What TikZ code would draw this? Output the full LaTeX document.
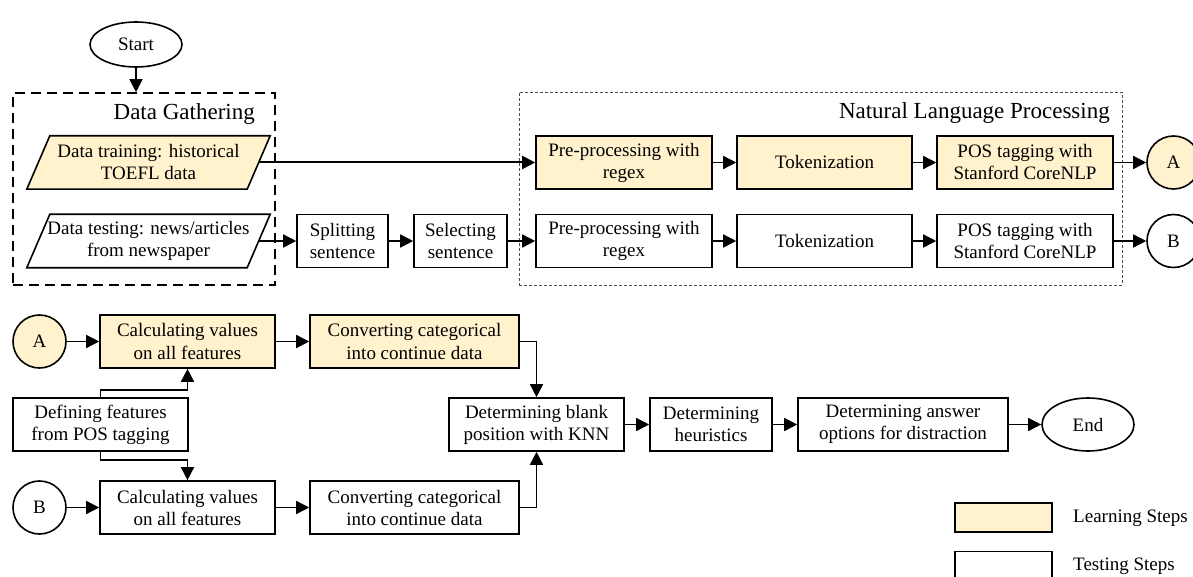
\documentclass[tikz,border=0pt]{standalone}
\usepackage{fontspec}
\setmainfont{Liberation Serif}
\usetikzlibrary{arrows.meta,shapes.geometric}
\definecolor{learn}{HTML}{FFF2CC}
\begin{document}
\begin{tikzpicture}[x=1pt,y=-1pt,
  font=\fontsize{19}{22}\selectfont,
  box/.style={draw, line width=1.6pt, inner sep=0pt, align=center, minimum height=53pt},
  lbox/.style={box, fill=learn},
  conn/.style={line width=1.5pt, -{Triangle[length=13pt,width=13pt]}},
  circ/.style={circle, draw, line width=1.6pt, minimum size=53pt, inner sep=0pt},
  term/.style={ellipse, draw, line width=1.6pt, inner sep=0pt},
  para/.style={inner sep=0pt, align=center, minimum width=220pt, minimum height=53pt},
  grptitle/.style={font=\fontsize{23}{27}\selectfont, anchor=base east, inner sep=0pt},
  dgbox/.style={draw, line width=1.6pt, dash pattern=on 10pt off 6pt, inner sep=0pt},
  nlpbox/.style={draw=black!70, line width=0.8pt, dash pattern=on 3pt off 2pt, inner sep=0pt}
]
\useasboundingbox (0,0) rectangle (1193,577);

% Start
\node[term, minimum width=92pt, minimum height=45pt] (start) at (136,44.5) {Start};

% Data Gathering group
\node[dgbox, minimum width=262pt, minimum height=192pt] (dg) at (144,189) {};
\node[grptitle] (dgt) at (255,120) {Data Gathering};

% parallelograms
\node[para] (dtrain) at (148.5,162.5) {};
\filldraw[fill=learn, line width=1.6pt]
  ([xshift=11.5pt]dtrain.north west) -- ([xshift=11.5pt]dtrain.north east)
  -- ([xshift=-11.5pt]dtrain.south east) -- ([xshift=-11.5pt]dtrain.south west) -- cycle;
\node[para] at (dtrain.center) {Data training: historical\\TOEFL data};

\node[para] (dtest) at (148.5,241) {};
\draw[line width=1.6pt]
  ([xshift=11.5pt]dtest.north west) -- ([xshift=11.5pt]dtest.north east)
  -- ([xshift=-11.5pt]dtest.south east) -- ([xshift=-11.5pt]dtest.south west) -- cycle;
\node[para] at (dtest.center) {Data testing: news/articles\\from newspaper};

% NLP group
\node[nlpbox, minimum width=603pt, minimum height=193pt] (nlp) at (820.5,188.5) {};
\node[grptitle] (nlpt) at (1110,119) {Natural Language Processing};

% top row
\node[lbox, minimum width=176pt] (pre1) at (624,162.5) {Pre-processing with\\regex};
\node[lbox, minimum width=175pt] (tok1) at (824.5,162.5) {Tokenization};
\node[lbox, minimum width=176pt] (pos1) at (1025,162.5) {POS tagging with\\Stanford CoreNLP};
\node[circ, fill=learn] (A1) at (1173.5,162.5) {A};

% second row
\node[box, minimum width=91pt] (split) at (342.5,241) {Splitting\\sentence};
\node[box, minimum width=93pt] (sel) at (460.5,241) {Selecting\\sentence};
\node[box, minimum width=176pt] (pre2) at (624,241) {Pre-processing with\\regex};
\node[box, minimum width=175pt] (tok2) at (824.5,241) {Tokenization};
\node[box, minimum width=176pt] (pos2) at (1025,241) {POS tagging with\\Stanford CoreNLP};
\node[circ] (B1) at (1173.5,241) {B};

% lower part
\node[circ, fill=learn] (A2) at (39.5,341.5) {A};
\node[lbox, minimum width=175pt] (calcA) at (187.5,341.5) {Calculating values\\on all features};
\node[lbox, minimum width=209pt] (convA) at (414.5,341.5) {Converting categorical\\into continue data};
\node[box, minimum width=175pt] (def) at (100.5,424.5) {Defining features\\from POS tagging};
\node[circ] (B2) at (39.5,507.5) {B};
\node[box, minimum width=175pt] (calcB) at (187.5,507.5) {Calculating values\\on all features};
\node[box, minimum width=209pt] (convB) at (414.5,507.5) {Converting categorical\\into continue data};

\node[box, minimum width=175pt] (blank) at (536.5,424.5) {Determining blank\\position with KNN};
\node[box, minimum width=122pt] (heur) at (711,424.5) {Determining\\heuristics};
\node[box, minimum width=210pt] (ans) at (903,424.5) {Determining answer\\options for distraction};
\node[term, minimum width=92pt, minimum height=53pt] (end) at (1088,424.5) {End};

% legend
\node[lbox, minimum width=97pt, minimum height=29pt] (leg1) at (1003.5,517.5) {};
\node[anchor=west, inner sep=0pt] (leg1t) at (1073,518) {Learning Steps};
\node[box, minimum width=97pt, minimum height=29pt] (leg2) at (1003.5,566) {};
\node[anchor=west, inner sep=0pt] (leg2t) at (1073,566) {Testing Steps};

% connectors
\draw[conn] (start.south) -- (start.south |- dg.north);
\draw[conn, line width=2pt] (dtrain.east) -- (pre1.west);
\draw[conn] (dtest.east) -- (split.west);
\draw[conn] (split) -- (sel);
\draw[conn] (sel) -- (pre2);
\draw[conn] (pre1) -- (tok1);
\draw[conn] (tok1) -- (pos1);
\draw[conn] (pos1) -- (A1);
\draw[conn] (pre2) -- (tok2);
\draw[conn] (tok2) -- (pos2);
\draw[conn] (pos2) -- (B1);

\draw[conn] (A2) -- (calcA);
\draw[conn] (calcA) -- (convA);
\draw[conn] (B2) -- (calcB);
\draw[conn] (calcB) -- (convB);
\draw[conn] (def.north) -- ++(0,-7) -| (calcA.south);
\draw[conn] (def.south) -- ++(0,8) -| (calcB.north);
\draw[conn] (convA.east) -| (blank.north);
\draw[conn] (convB.east) -| (blank.south);
\draw[conn] (blank) -- (heur);
\draw[conn] (heur) -- (ans);
\draw[conn] (ans) -- (end);
\end{tikzpicture}
\end{document}
